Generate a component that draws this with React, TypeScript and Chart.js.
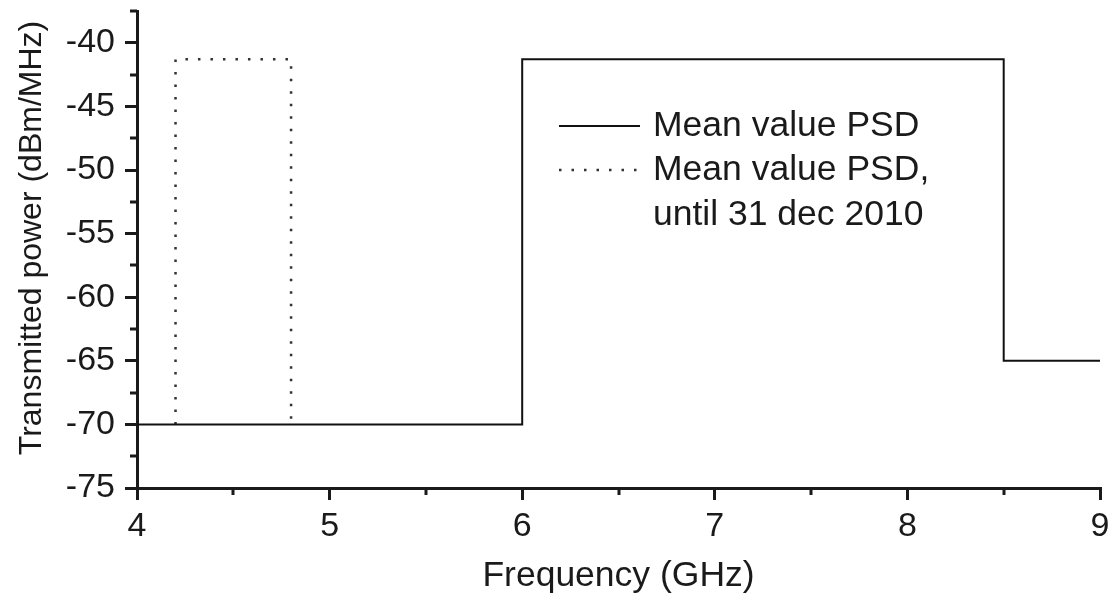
import React, { useEffect, useRef } from "react";
import { Chart, registerables } from "chart.js";

Chart.register(...registerables);

const FONT = "'Liberation Sans', Arial, Helvetica, sans-serif";
const INK = "#1a1a1a";

// Data (frequency in GHz, PSD in dBm/MHz)
const psdFrequencyGHz = [4, 6, 6, 8.5, 8.5, 9];
const psdValueDbm = [-70, -70, -41.3, -41.3, -65, -65];
const oldPsdFrequencyGHz = [4.2, 4.2, 4.8, 4.8];
const oldPsdValueDbm = [-70, -41.3, -41.3, -70];

const seriesLabels = ["Mean value PSD", "Mean value PSD,\nuntil 31 dec 2010"];

// Axes
const xMin = 4;
const xMax = 9;
const xStep = 1;
const xMinorTicks = [4.5, 5.5, 6.5, 7.5, 8.5];
const yMin = -75;
const yMax = -37.5;
const yStep = 5;
const yMinorTicks = [-72.5, -67.5, -62.5, -57.5, -52.5, -47.5, -42.5, -37.5];

const xTitle = "Frequency (GHz)";
const yTitle = "Transmitted power (dBm/MHz)";

const minorTickPlugin = {
  id: "minorTicks",
  afterDraw(chart: any) {
    const { ctx, chartArea, scales } = chart;
    ctx.save();
    ctx.strokeStyle = INK;
    ctx.lineWidth = 3;
    ctx.beginPath();
    xMinorTicks.forEach((v) => {
      const px = Math.round(scales.x.getPixelForValue(v));
      ctx.moveTo(px, chartArea.bottom);
      ctx.lineTo(px, chartArea.bottom + 7);
    });
    yMinorTicks.forEach((v) => {
      const py = Math.round(scales.y.getPixelForValue(v));
      ctx.moveTo(chartArea.left, py);
      ctx.lineTo(chartArea.left - 7, py);
    });
    ctx.stroke();
    ctx.restore();
  },
};

const yTitlePlugin = {
  id: "yTitle",
  afterDraw(chart: any) {
    const ctx = chart.ctx;
    ctx.save();
    ctx.translate(32, 238);
    ctx.rotate(-Math.PI / 2);
    ctx.fillStyle = INK;
    ctx.font = `32px ${FONT}`;
    ctx.textAlign = "center";
    ctx.textBaseline = "middle";
    ctx.fillText(yTitle, 0, 0);
    ctx.restore();
  },
};

const legendPlugin = {
  id: "customLegend",
  afterDraw(chart: any) {
    const ctx = chart.ctx;
    const sampleX0 = 559;
    const sampleX1 = 640;
    const textX = 653;
    const rowY = [126, 170];
    const lineGap = 45;
    chart.data.datasets.forEach((ds: any, i: number) => {
      const y = rowY[i];
      ctx.save();
      ctx.strokeStyle = ds.borderColor;
      ctx.lineWidth = ds.borderWidth;
      ctx.setLineDash(ds.borderDash || []);
      ctx.beginPath();
      ctx.moveTo(sampleX0, y);
      ctx.lineTo(sampleX1, y);
      ctx.stroke();
      ctx.setLineDash([]);
      ctx.fillStyle = INK;
      ctx.font = `35.5px ${FONT}`;
      ctx.textBaseline = "middle";
      ctx.textAlign = "left";
      String(ds.label)
        .split("\n")
        .forEach((t: string, j: number) => ctx.fillText(t, textX, y + j * lineGap));
      ctx.restore();
    });
  },
};

export default function App() {
  const canvasRef = useRef<HTMLCanvasElement | null>(null);

  useEffect(() => {
    document.body.style.margin = "0";
    const canvas = canvasRef.current;
    if (!canvas) return;
    const chart = new Chart(canvas, {
      type: "line",
      data: {
        datasets: [
          {
            label: seriesLabels[0],
            data: psdFrequencyGHz.map((x, i) => ({ x, y: psdValueDbm[i] })),
            borderColor: "#111111",
            borderWidth: 2,
            pointRadius: 0,
            fill: false,
            tension: 0,
          },
          {
            label: seriesLabels[1],
            data: oldPsdFrequencyGHz.map((x, i) => ({ x, y: oldPsdValueDbm[i] })),
            borderColor: "#333333",
            borderWidth: 2.5,
            borderDash: [2.5, 10],
            pointRadius: 0,
            fill: false,
            tension: 0,
          },
        ],
      },
      options: {
        animation: false,
        responsive: false,
        devicePixelRatio: 1,
        layout: { padding: { top: 11, right: 20, bottom: 0, left: 0 } },
        plugins: {
          legend: { display: false },
          tooltip: { enabled: false },
        },
        scales: {
          x: {
            type: "linear",
            min: xMin,
            max: xMax,
            afterFit: (scale: any) => {
              scale.height = 118;
              scale.paddingLeft = 0;
              scale.paddingRight = 0;
            },
            ticks: {
              stepSize: xStep,
              includeBounds: false,
              padding: 6,
              color: INK,
              font: { family: FONT, size: 34 },
              maxRotation: 0,
            },
            grid: {
              drawOnChartArea: false,
              drawTicks: true,
              tickLength: 12,
              lineWidth: 3,
              tickWidth: 3,
              tickColor: INK,
              color: INK,
            },
            border: { display: true, color: INK, width: 3 },
            title: {
              display: true,
              text: xTitle,
              color: INK,
              font: { family: FONT, size: 35.5 },
              padding: { top: 0, bottom: 8 },
            },
          },
          y: {
            type: "linear",
            min: yMin,
            max: yMax,
            afterFit: (scale: any) => {
              scale.width = 137;
              scale.paddingTop = 0;
              scale.paddingBottom = 0;
            },
            ticks: {
              stepSize: yStep,
              includeBounds: false,
              padding: 10,
              color: INK,
              font: { family: FONT, size: 34 },
            },
            grid: {
              drawOnChartArea: false,
              drawTicks: true,
              tickLength: 12,
              lineWidth: 3,
              tickWidth: 3,
              tickColor: INK,
              color: INK,
            },
            border: { display: true, color: INK, width: 3 },
            title: { display: false },
          },
        },
      },
      plugins: [minorTickPlugin, yTitlePlugin, legendPlugin],
    });
    return () => chart.destroy();
  }, []);

  return (
    <div style={{ position: "fixed", left: 0, top: 0, width: 1120, height: 606, background: "#fff" }}>
      <canvas ref={canvasRef} width={1120} height={606} />
    </div>
  );
}
